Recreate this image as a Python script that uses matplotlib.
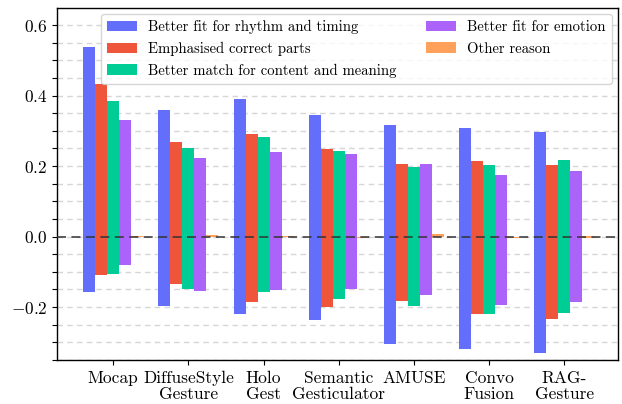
import matplotlib
matplotlib.use("Agg")
import matplotlib.pyplot as plt
import numpy as np
from matplotlib.ticker import MultipleLocator

plt.rcParams['font.family'] = 'serif'
plt.rcParams['font.serif'] = ['cmr10']
plt.rcParams['mathtext.fontset'] = 'cm'
plt.rcParams['axes.formatter.use_mathtext'] = True
plt.rcParams['axes.unicode_minus'] = True

categories = ["Mocap", "DiffuseStyle\nGesture", "Holo\nGest", "Semantic\nGesticulator",
              "AMUSE", "Convo\nFusion", "RAG-\nGesture"]
series = ["Better fit for rhythm and timing", "Emphasised correct parts",
          "Better match for content and meaning", "Better fit for emotion", "Other reason"]
colors = ["#636EFA", "#EF553B", "#00CC96", "#AB63FA", "#FFA15A"]

pos_rhythm = [0.537, 0.359, 0.390, 0.345, 0.316, 0.308, 0.297]
pos_emph = [0.433, 0.268, 0.291, 0.248, 0.206, 0.214, 0.203]
pos_content = [0.384, 0.251, 0.282, 0.243, 0.198, 0.203, 0.217]
pos_emotion = [0.330, 0.223, 0.240, 0.234, 0.206, 0.175, 0.186]
pos_other = [0.002, 0.005, 0.002, 0.0, 0.006, 0.0, 0.002]

neg_rhythm = [-0.156, -0.196, -0.219, -0.236, -0.304, -0.318, -0.329]
neg_emph = [-0.108, -0.134, -0.185, -0.201, -0.182, -0.219, -0.233]
neg_content = [-0.106, -0.148, -0.156, -0.176, -0.196, -0.219, -0.216]
neg_emotion = [-0.082, -0.153, -0.151, -0.148, -0.165, -0.193, -0.185]
neg_other = [-0.001, 0.0, -0.001, -0.004, 0.0, -0.004, -0.004]

pos = [pos_rhythm, pos_emph, pos_content, pos_emotion, pos_other]
neg = [neg_rhythm, neg_emph, neg_content, neg_emotion, neg_other]

fig = plt.figure(figsize=(6.22, 4.04), dpi=100)
ax = fig.add_axes([0.092, 0.109, 0.901, 0.870])

x = np.arange(len(categories))
w = 0.16
for i, (s, c) in enumerate(zip(series, colors)):
    off = (i - 2) * w
    ax.bar(x + off, pos[i], w, color=c, label=s, zorder=2)
    ax.bar(x + off, neg[i], w, color=c, zorder=2)

ax.axhline(0, color='#333333', linestyle=(0, (5, 3)), lw=1.3, alpha=0.85, zorder=4)

ax.set_xlim(-0.745, 6.71)
ax.set_ylim(-0.35, 0.647)
ax.yaxis.set_major_locator(MultipleLocator(0.2))
ax.yaxis.set_minor_locator(MultipleLocator(0.05))
ax.tick_params(axis='y', which='both', length=3.5, width=0.8, labelsize=12.5)
ax.tick_params(axis='x', length=3.5, width=0.8, labelsize=12.5, pad=4)
ax.set_xticks(x)
ax.set_xticklabels(categories, linespacing=1.1)
ax.grid(axis='y', which='both', linestyle=(0, (4, 3)), color='#d6d6d6', lw=1.0, zorder=0)
ax.set_axisbelow(True)
for sp in ax.spines.values():
    sp.set_linewidth(1.0)

leg = ax.legend(loc='upper right', ncol=2, fontsize=10.6, frameon=True, borderaxespad=0.4,
                bbox_to_anchor=(1.0, 1.0))
leg.get_frame().set_edgecolor('#cccccc')

fig.savefig("out.png", dpi=100)
